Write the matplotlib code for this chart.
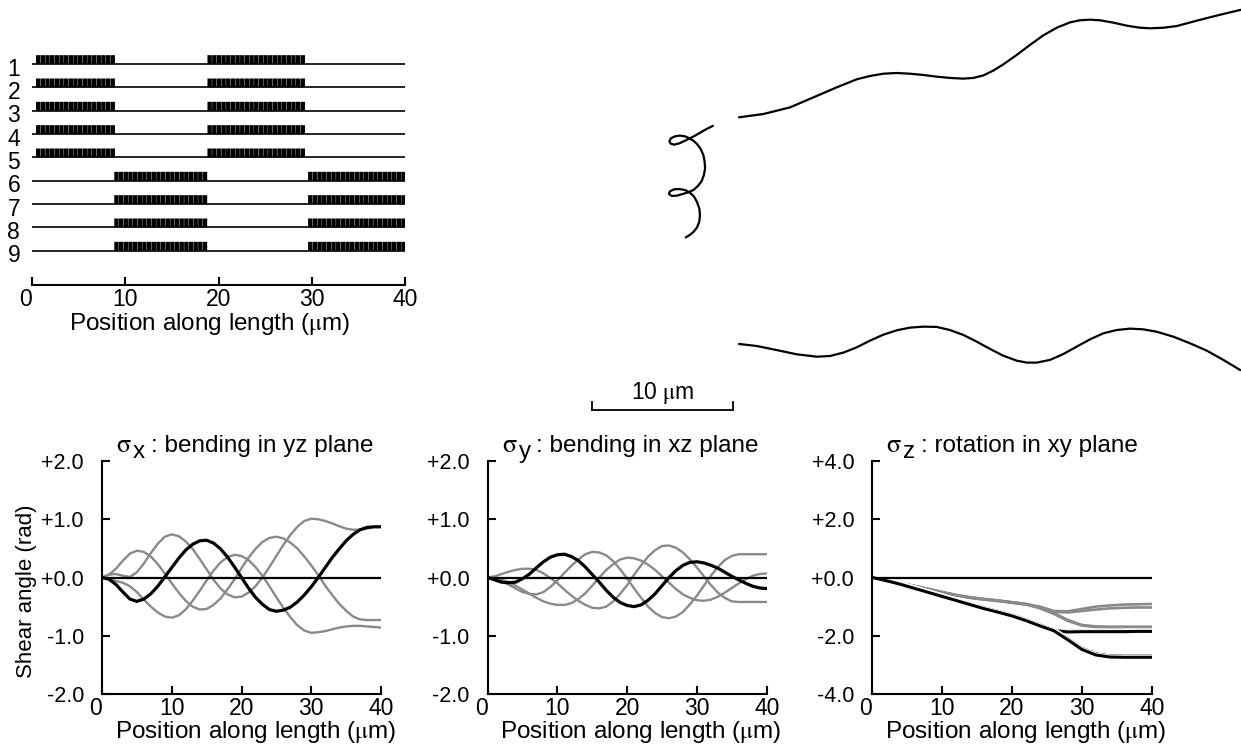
import numpy as np
import matplotlib.pyplot as plt
import matplotlib.patheffects as pe
from matplotlib.transforms import offset_copy

plt.rcParams['font.family'] = ['Liberation Sans', 'DejaVu Sans']
plt.rcParams['mathtext.fontset'] = 'stix'
plt.rcParams['font.size'] = 15.5

GRAY = '#8a8a8a'
LABEL_SIZE = 17.5

# ---- segment pattern along the filament (tracks 1-9) ----
tracks_a = [1, 2, 3, 4, 5]
tracks_b = [6, 7, 8, 9]
segments_a = [(0.4, 8.8), (18.8, 29.6)]
segments_b = [(8.8, 18.8), (29.6, 40.0)]

# ---- shear angle profiles, sampled every 1 um ----
pos = np.arange(0, 41)
sx_black = [0, -0.03, -0.12, -0.25, -0.37, -0.41, -0.37, -0.28, -0.15, 0.01, 0.17, 0.33, 0.47,
            0.57, 0.63, 0.64, 0.59, 0.49, 0.35, 0.18, 0.0, -0.18, -0.34, -0.46, -0.55, -0.58,
            -0.56, -0.51, -0.42, -0.30, -0.16, 0.0, 0.17, 0.34, 0.49, 0.63, 0.74, 0.82, 0.86,
            0.87, 0.87]
sx_gray = [
    [0, 0.05, 0.15, 0.29, 0.41, 0.46, 0.44, 0.36, 0.23, 0.07, -0.10, -0.26, -0.40, -0.50, -0.55,
     -0.54, -0.47, -0.36, -0.20, -0.03, 0.16, 0.34, 0.49, 0.61, 0.68, 0.70, 0.67, 0.60, 0.50,
     0.36, 0.21, 0.04, -0.14, -0.30, -0.45, -0.57, -0.67, -0.72, -0.73, -0.73, -0.73],
    [0, 0.05, 0.06, 0.03, 0.01, 0.09, 0.24, 0.42, 0.58, 0.70, 0.74, 0.71, 0.62, 0.49, 0.32,
     0.14, -0.04, -0.19, -0.29, -0.34, -0.33, -0.26, -0.15, 0.0, 0.18, 0.37, 0.56, 0.73, 0.87,
     0.97, 1.01, 1.0, 0.97, 0.93, 0.88, 0.84, 0.82, 0.82, 0.84, 0.87, 0.88],
    [0, -0.03, -0.06, -0.09, -0.15, -0.25, -0.38, -0.50, -0.60, -0.67, -0.69, -0.65, -0.55,
     -0.40, -0.23, -0.05, 0.12, 0.26, 0.35, 0.39, 0.37, 0.30, 0.18, 0.03, -0.15, -0.34, -0.52,
     -0.68, -0.82, -0.91, -0.95, -0.94, -0.92, -0.89, -0.86, -0.84, -0.83, -0.83, -0.84,
     -0.85, -0.86],
]
sy_black = [0, -0.04, -0.08, -0.09, -0.08, -0.02, 0.06, 0.17, 0.27, 0.35, 0.39, 0.40, 0.36,
            0.29, 0.18, 0.05, -0.08, -0.22, -0.34, -0.43, -0.48, -0.50, -0.47, -0.39, -0.28,
            -0.14, 0.0, 0.12, 0.21, 0.26, 0.27, 0.25, 0.21, 0.16, 0.09, 0.02, -0.04, -0.10,
            -0.15, -0.18, -0.19]
sy_gray = [
    [0, 0.02, 0.06, 0.10, 0.13, 0.15, 0.15, 0.13, 0.07, -0.01, -0.10, -0.21, -0.31, -0.40,
     -0.47, -0.52, -0.53, -0.50, -0.41, -0.28, -0.13, 0.05, 0.21, 0.36, 0.47, 0.54, 0.55, 0.51,
     0.43, 0.31, 0.17, 0.02, -0.13, -0.26, -0.35, -0.41, -0.42, -0.42, -0.42, -0.42, -0.42],
    [0, -0.02, -0.06, -0.12, -0.19, -0.25, -0.28, -0.29, -0.25, -0.16, -0.05, 0.08, 0.20, 0.31,
     0.40, 0.44, 0.43, 0.38, 0.28, 0.14, -0.02, -0.19, -0.35, -0.50, -0.61, -0.68, -0.70, -0.67,
     -0.59, -0.46, -0.31, -0.14, 0.03, 0.18, 0.30, 0.37, 0.40, 0.40, 0.40, 0.40, 0.40],
    [0, -0.01, -0.04, -0.08, -0.14, -0.21, -0.28, -0.35, -0.41, -0.45, -0.47, -0.47, -0.44,
     -0.37, -0.27, -0.14, 0.0, 0.13, 0.23, 0.31, 0.34, 0.33, 0.29, 0.22, 0.13, 0.02, -0.09,
     -0.20, -0.29, -0.35, -0.39, -0.40, -0.38, -0.33, -0.26, -0.18, -0.10, -0.03, 0.03, 0.06,
     0.07],
]

# sigma_z, sampled every 2 um
pos_z = np.arange(0, 41, 2)
sz_gray = [
    [0, -0.09, -0.19, -0.29, -0.39, -0.50, -0.60, -0.68, -0.74, -0.79, -0.85, -0.91, -1.00,
     -1.15, -1.16, -1.08, -1.00, -0.96, -0.93, -0.92, -0.91],
    [0, -0.09, -0.19, -0.29, -0.40, -0.51, -0.61, -0.70, -0.76, -0.81, -0.87, -0.93, -1.03,
     -1.18, -1.20, -1.15, -1.10, -1.06, -1.04, -1.03, -1.03],
    [0, -0.09, -0.19, -0.29, -0.39, -0.50, -0.60, -0.68, -0.74, -0.79, -0.85, -0.91, -1.04,
     -1.22, -1.46, -1.63, -1.68, -1.69, -1.69, -1.69, -1.69],
    [0, -0.09, -0.19, -0.30, -0.40, -0.51, -0.61, -0.69, -0.75, -0.80, -0.86, -0.92, -1.06,
     -1.25, -1.49, -1.65, -1.70, -1.71, -1.71, -1.71, -1.71],
]
sz_black = [
    [0, -0.10, -0.22, -0.35, -0.49, -0.63, -0.77, -0.91, -1.04, -1.16, -1.29, -1.45, -1.63,
     -1.80, -1.85, -1.84, -1.84, -1.84, -1.83, -1.83, -1.83],
    [0, -0.10, -0.23, -0.36, -0.51, -0.65, -0.79, -0.93, -1.06, -1.19, -1.32, -1.48, -1.65,
     -1.82, -1.87, -1.86, -1.86, -1.86, -1.86, -1.85, -1.85],
    [0, -0.10, -0.22, -0.35, -0.49, -0.63, -0.77, -0.91, -1.04, -1.16, -1.29, -1.45, -1.63,
     -1.80, -2.10, -2.43, -2.62, -2.69, -2.70, -2.70, -2.70],
    [0, -0.11, -0.23, -0.37, -0.51, -0.65, -0.79, -0.93, -1.07, -1.19, -1.32, -1.48, -1.66,
     -1.83, -2.14, -2.47, -2.66, -2.73, -2.74, -2.74, -2.74],
]

# ---- filament shape (um): top view, side view, end view ----
top_x = [11.30, 13.00, 14.89, 16.55, 18.20, 19.62, 20.57, 21.51, 22.46, 23.40, 24.35, 25.30,
         26.24, 27.19, 27.90, 28.61, 29.31, 30.02, 30.97, 31.91, 32.86, 33.81, 34.75, 35.46,
         36.17, 36.88, 37.83, 38.77, 39.72, 40.43, 41.37, 42.32, 43.74, 45.15, 46.81]
top_y = [21.47, 21.70, 22.17, 22.88, 23.59, 24.16, 24.40, 24.56, 24.61, 24.56, 24.47, 24.35,
         24.26, 24.21, 24.26, 24.44, 24.78, 25.22, 25.89, 26.60, 27.28, 27.82, 28.20, 28.35,
         28.39, 28.35, 28.18, 27.97, 27.82, 27.78, 27.82, 27.94, 28.32, 28.68, 29.08]
side_x = [11.30, 12.53, 13.95, 15.37, 16.79, 17.73, 18.68, 19.62, 20.57, 21.51, 22.46, 23.40,
          24.35, 25.30, 26.24, 27.19, 28.13, 29.08, 30.02, 30.97, 31.68, 32.39, 33.33, 34.28,
          35.22, 36.17, 37.12, 38.06, 39.01, 39.95, 40.90, 42.08, 43.26, 44.45, 45.63, 46.81]
side_y = [5.39, 5.25, 4.96, 4.66, 4.49, 4.54, 4.78, 5.15, 5.63, 6.05, 6.36, 6.55, 6.62, 6.60,
          6.38, 6.03, 5.56, 5.04, 4.56, 4.21, 4.07, 4.07, 4.26, 4.68, 5.20, 5.72, 6.15, 6.38,
          6.48, 6.43, 6.26, 5.91, 5.44, 4.92, 4.26, 3.55]
end_x = [9.41, 8.98, 8.56, 8.16, 7.80, 7.45, 7.04, 6.67, 6.43, 6.34, 6.45, 6.74, 7.09, 7.45,
         7.75, 8.04, 8.32, 8.56, 8.75, 8.84, 8.87, 8.79, 8.63, 8.37, 8.04, 7.68, 7.28, 6.86,
         6.50, 6.31, 6.38, 6.67, 7.04, 7.45, 7.80, 8.09, 8.30, 8.46, 8.51, 8.46, 8.30, 8.04,
         7.75, 7.52]
end_y = [20.85, 20.64, 20.40, 20.17, 19.98, 19.81, 19.62, 19.53, 19.60, 19.76, 19.98, 20.12,
         20.17, 20.12, 19.98, 19.81, 19.55, 19.22, 18.79, 18.32, 17.85, 17.38, 16.95, 16.60,
         16.31, 16.15, 16.03, 15.91, 15.89, 16.03, 16.22, 16.36, 16.38, 16.31, 16.12, 15.84,
         15.46, 15.01, 14.54, 14.07, 13.66, 13.33, 13.10, 12.96]
scale_len = 10
scale_x0 = 0.85
scale_y0 = 0.71

W, H = 1241, 744
fig = plt.figure(figsize=(W / 100, H / 100), dpi=100)
renderer = fig.canvas.get_renderer()
XLABEL = r'Position along length ($\mathrm{\mu}$m)'


def px_axes(x0, y0, x1, y1):
    # axes from pixel box (top-left origin)
    return fig.add_axes([x0 / W, 1 - y1 / H, (x1 - x0) / W, (y1 - y0) / H])


def zero_label_left(ax):
    fig.canvas.draw()
    ax.get_xticklabels()[0].set_ha('right')


# ---- top-left: tracks ----
ax = px_axes(32.3, 40.7, 405, 285)
for group, segs in [(tracks_a, segments_a), (tracks_b, segments_b)]:
    for t in group:
        ax.hlines(t, 0, 40, color='black', lw=1.2)
        for s, e in segs:
            xs = np.arange(s, e - 0.3, 0.5)
            ax.bar(xs, -0.38, width=0.47, bottom=t, align='edge', color='black', lw=0,
                   snap=False)
        ax.text(-1.3, t + 0.22, str(t), ha='right', va='center', fontsize=16.5)
ax.set_xlim(0, 40)
ax.set_ylim(10.47, 0)
for s in ['top', 'right', 'left']:
    ax.spines[s].set_visible(False)
ax.spines['bottom'].set_linewidth(1.5)
ax.set_yticks([])
ax.set_xticks([0, 10, 20, 30, 40])
ax.tick_params(axis='x', direction='in', length=6, width=1.5, pad=2, labelsize=16.5)
ax.set_xlabel(XLABEL, va='center', fontsize=LABEL_SIZE)
ax.xaxis.set_label_coords(0.477, -0.158)

# ---- top-right: filament drawing ----
axd = px_axes(580, 0, 1241, 420)
for xs_, ys_ in [(top_x, top_y), (side_x, side_y), (end_x, end_y)]:
    axd.plot(xs_, ys_, color='black', lw=1.6, solid_joinstyle='round')
axd.plot([scale_x0, scale_x0 + scale_len], [scale_y0, scale_y0], color='black', lw=1.3)
axd.plot([scale_x0, scale_x0], [scale_y0, scale_y0 + 0.55], color='black', lw=1.3)
axd.plot([scale_x0 + scale_len] * 2, [scale_y0, scale_y0 + 0.55], color='black', lw=1.3)
axd.text(scale_x0 + scale_len / 2, scale_y0 + 1.2, r'10 $\mathrm{\mu}$m', ha='center',
         va='center', fontsize=16.5)
axd.set_xlim(0, 661 / 14.1)
axd.set_ylim(0, 420 / 14.1)
axd.axis('off')


# ---- bottom: shear angle panels ----
def sigma_title(ax, sub, rest):
    base = ax.transAxes
    t1 = ax.text(0.05, 1.04, r'$\mathrm{\sigma}$', transform=base, ha='left', va='baseline',
                 fontsize=19)
    w1 = t1.get_window_extent(renderer).width
    t2 = ax.text(0.05, 1.04, sub, ha='left', va='baseline', fontsize=LABEL_SIZE,
                 transform=offset_copy(base, fig=fig, x=w1 + 1.5, y=-6, units='dots'))
    w2 = t2.get_window_extent(renderer).width
    ax.text(0.05, 1.04, ': ' + rest, ha='left', va='baseline', fontsize=LABEL_SIZE,
            transform=offset_copy(base, fig=fig, x=w1 + w2 + 7, y=0, units='dots'))


def shear_panel(ax, ylim, yticks, ylabels):
    ax.axhline(0, color='black', lw=1.6, zorder=3)
    ax.set_xlim(0, 40)
    ax.set_ylim(*ylim)
    ax.set_xticks([0, 10, 20, 30, 40])
    ax.set_yticks(yticks)
    ax.set_yticklabels(ylabels)
    for s in ['top', 'right']:
        ax.spines[s].set_visible(False)
    for s in ['left', 'bottom']:
        ax.spines[s].set_linewidth(1.5)
    ax.tick_params(axis='x', direction='in', length=6, width=1.5, pad=2, labelsize=16.5)
    ax.tick_params(axis='y', direction='in', length=6, width=1.5, pad=13)
    ax.set_xlabel(XLABEL, va='center', fontsize=LABEL_SIZE)
    ax.xaxis.set_label_coords(0.55, -0.162)


lab2 = ['-2.0', '-1.0', '+0.0', '+1.0', '+2.0']
ax1 = px_axes(102, 461, 381, 694)
for g in sx_gray:
    ax1.plot(pos, g, color=GRAY, lw=1.7)
ax1.plot(pos, sx_black, color='black', lw=2.3, zorder=4)
shear_panel(ax1, (-2, 2), [-2, -1, 0, 1, 2], lab2)
sigma_title(ax1, 'x', 'bending in yz plane')
ax1.set_ylabel('Shear angle (rad)', va='center', fontsize=16)
ax1.yaxis.set_label_coords(-0.27, 0.44)

ax2 = px_axes(487.7, 461, 766.7, 694)
for g in sy_gray:
    ax2.plot(pos, g, color=GRAY, lw=1.7)
ax2.plot(pos, sy_black, color='black', lw=2.3, zorder=4)
shear_panel(ax2, (-2, 2), [-2, -1, 0, 1, 2], lab2)
sigma_title(ax2, 'y', 'bending in xz plane')

ax3 = px_axes(872.3, 461, 1151.7, 694)
halo = [pe.Stroke(linewidth=3.6, foreground='white'), pe.Normal()]
for g in sz_gray:
    ax3.plot(pos_z, g, color=GRAY, lw=1.9)
for b in sz_black:
    ax3.plot(pos_z, b, color='black', lw=2.2, path_effects=halo)
shear_panel(ax3, (-4, 4), [-4, -2, 0, 2, 4], ['-4.0', '-2.0', '+0.0', '+2.0', '+4.0'])
sigma_title(ax3, 'z', 'rotation in xy plane')

for a in [ax, ax1, ax2, ax3]:
    zero_label_left(a)

fig.savefig('out.png', dpi=100)
